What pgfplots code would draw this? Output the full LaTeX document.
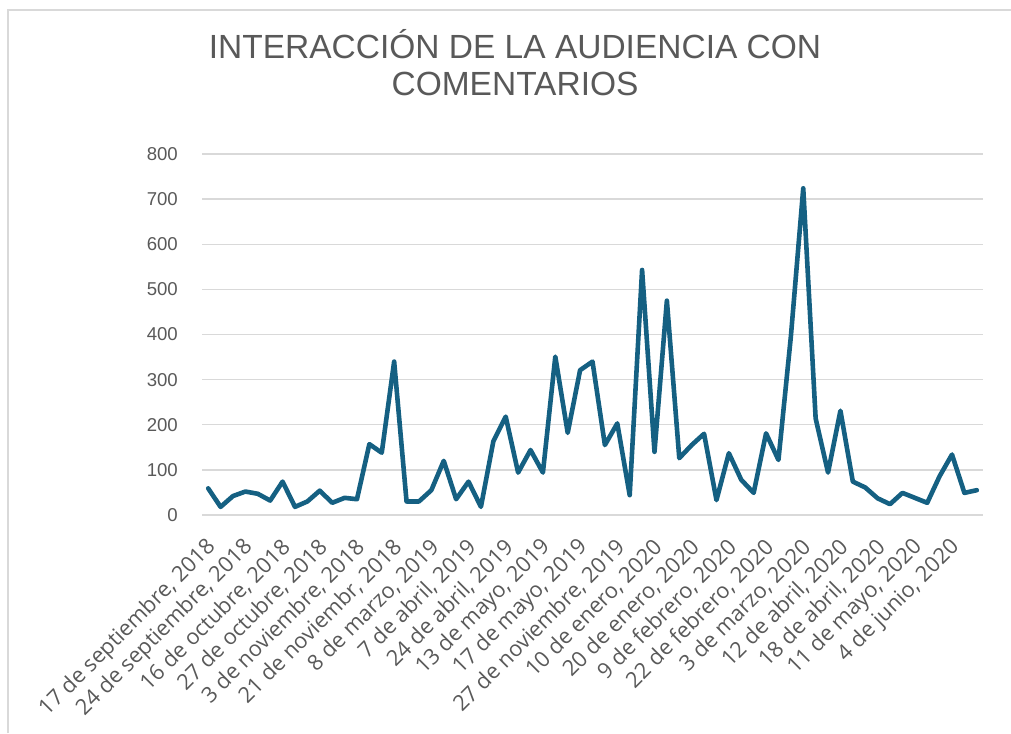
\documentclass[border=0pt]{standalone}
\usepackage{pgfplots}
\pgfplotsset{compat=1.18}
\usepackage{fontspec}
\setmainfont{Liberation Sans}
\newfontfamily\labfont{Open Sans}
\definecolor{linec}{HTML}{156082}
\definecolor{gridc}{HTML}{D9D9D9}
\definecolor{textc}{HTML}{595959}
\begin{document}
\begin{tikzpicture}[x=1pt,y=1pt]
\useasboundingbox (0,0) rectangle (1011,733);
\draw[gridc, line width=1.3pt] (8,0) -- (8,723) -- (1011,723);
\begin{axis}[
  at={(202pt,218pt)}, anchor=south west,
  scale only axis, width=781pt, height=361pt,
  xmin=-0.5, xmax=62.5, ymin=0, ymax=800,
  ytick={0,100,...,800},
  xtick={0,3,...,60},
  xticklabels={{17 de septiembre, 2018},{24 de septiembre, 2018},{16 de octubre, 2018},{27 de octubre, 2018},{3 de noviembre, 2018},{21 de noviembr, 2018},{8 de marzo, 2019},{7 de abril, 2019},{24 de abril, 2019},{13 de mayo, 2019},{17 de mayo, 2019},{27 de noviembre, 2019},{10 de enero, 2020},{20 de enero, 2020},{9 de febrero, 2020},{22 de febrero, 2020},{3 de marzo, 2020},{12 de abril, 2020},{18 de abril, 2020},{11 de mayo, 2020},{4 de junio, 2020}},
  axis line style={draw=none},
  major tick length=0pt,
  ymajorgrids, grid style={gridc, line width=1.3pt},
  /pgf/number format/assume math mode=true,
  tick label style={font=\fontsize{18.6}{20}\selectfont, text=textc},
  yticklabel style={anchor=east, inner sep=0pt, xshift=-24pt},
  xticklabel style={anchor=east, inner sep=0pt, xshift=4pt, yshift=-29pt, rotate=45, font=\labfont\fontsize{21.8}{22}\selectfont},
  title={INTERACCIÓN DE LA AUDIENCIA CON\\COMENTARIOS},
  title style={at={(axis description cs:0.4008,1.3296)}, anchor=north, inner sep=0pt, align=center, font=\fontsize{33.5}{37}\selectfont, text=textc},
  clip=false,
]
\addplot[linec, line width=4.6pt, line join=round, line cap=round] coordinates {
(0,59)(1,18)(2,42)(3,52)(4,47)(5,32)(6,74)(7,18)(8,30)(9,54)
(10,27)(11,38)(12,35)(13,157)(14,138)(15,340)(16,30)(17,30)(18,55)(19,120)
(20,35)(21,74)(22,18)(23,163)(24,218)(25,94)(26,144)(27,94)(28,351)(29,182)
(30,321)(31,340)(32,155)(33,203)(34,44)(35,543)(36,140)(37,475)(38,126)(39,155)
(40,180)(41,33)(42,137)(43,78)(44,49)(45,181)(46,122)(47,395)(48,724)(49,214)
(50,94)(51,231)(52,74)(53,61)(54,37)(55,24)(56,49)(57,38)(58,27)(59,86)
(60,134)(61,49)(62,55)
};
\end{axis}
\end{tikzpicture}
\end{document}
